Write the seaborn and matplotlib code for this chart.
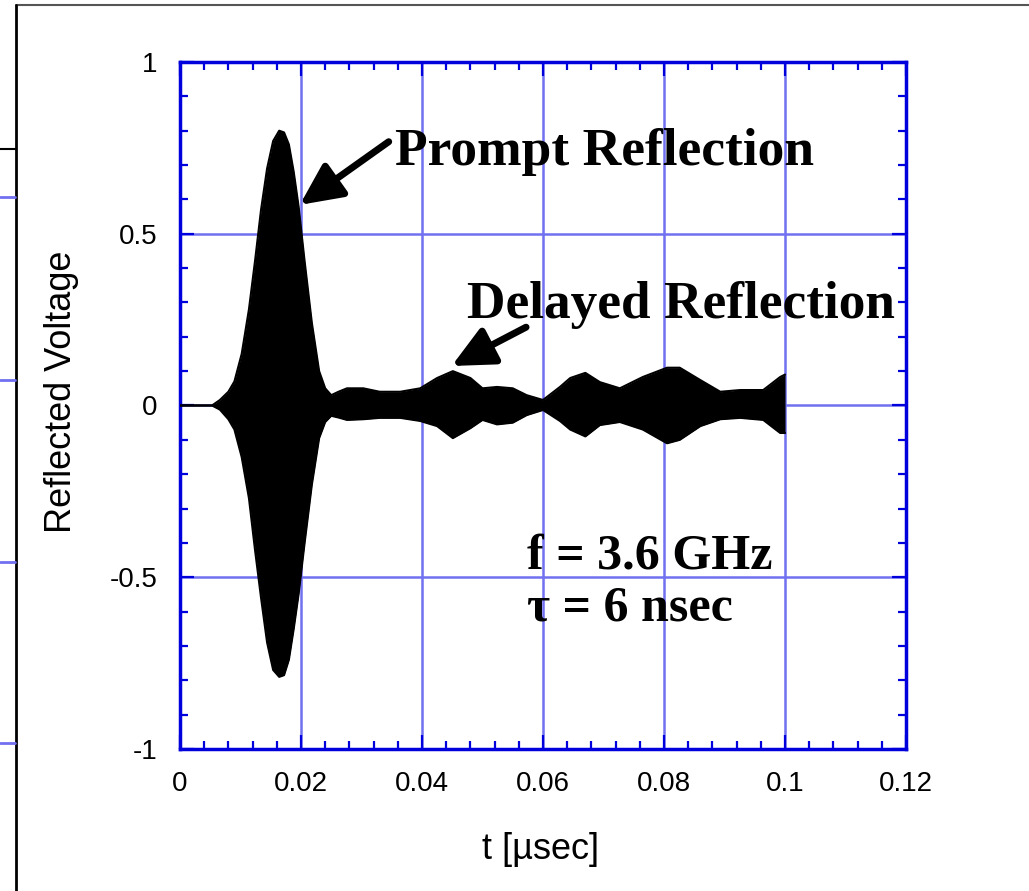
import numpy as np
import pandas as pd
import matplotlib
matplotlib.use("Agg")
import matplotlib.pyplot as plt
from matplotlib.lines import Line2D
from matplotlib.ticker import MultipleLocator
import seaborn as sns

# ---- data (envelope of the reflected signal) ----
t_usec = [0.0, 0.0053, 0.0066, 0.0080, 0.0090, 0.0102, 0.0114, 0.0124, 0.0134, 0.0144,
          0.0154, 0.0164, 0.0172, 0.0180, 0.0188, 0.0196, 0.0206, 0.0218, 0.0230, 0.0240,
          0.0250, 0.0262, 0.0276, 0.0303, 0.0330, 0.0364, 0.0397, 0.0425, 0.0451, 0.0480,
          0.0500, 0.0524, 0.0550, 0.0573, 0.0600, 0.0628, 0.0645, 0.0670, 0.0694, 0.0727,
          0.0765, 0.0805, 0.0826, 0.0860, 0.0893, 0.0926, 0.0964, 0.0992, 0.1000]
upper_env = [0.0, 0.0, 0.016, 0.04, 0.07, 0.15, 0.28, 0.42, 0.57, 0.69,
             0.77, 0.80, 0.795, 0.76, 0.68, 0.58, 0.42, 0.24, 0.10, 0.05,
             0.03, 0.04, 0.05, 0.05, 0.04, 0.04, 0.05, 0.08, 0.10, 0.08,
             0.05, 0.054, 0.05, 0.03, 0.016, 0.054, 0.08, 0.095, 0.068, 0.05,
             0.083, 0.11, 0.11, 0.074, 0.04, 0.045, 0.045, 0.083, 0.09]
lower_env = [0.0, 0.0, -0.012, -0.04, -0.07, -0.15, -0.27, -0.42, -0.56, -0.69,
             -0.77, -0.79, -0.785, -0.74, -0.65, -0.55, -0.40, -0.23, -0.095, -0.048,
             -0.03, -0.035, -0.042, -0.04, -0.036, -0.036, -0.045, -0.06, -0.095, -0.066,
             -0.042, -0.055, -0.05, -0.028, -0.013, -0.045, -0.07, -0.09, -0.057, -0.048,
             -0.07, -0.11, -0.10, -0.06, -0.04, -0.036, -0.042, -0.08, -0.08]

x_ticks = [0, 0.02, 0.04, 0.06, 0.08, 0.1, 0.12]
x_ticklabels = ["0", "0.02", "0.04", "0.06", "0.08", "0.1", "0.12"]
y_ticks = [-1, -0.5, 0, 0.5, 1]
y_ticklabels = ["-1", "-0.5", "0", "0.5", "1"]

df = pd.DataFrame({"t": t_usec, "upper": upper_env, "lower": lower_env})

sns.set_style("white")
plt.rcParams["font.family"] = ["Liberation Sans", "DejaVu Sans"]
plt.rcParams["text.color"] = "black"
plt.rcParams["axes.labelcolor"] = "black"

fig = plt.figure(figsize=(10.29, 8.91), dpi=100)
ax = fig.add_axes([0.1749, 0.1594, 0.7056, 0.7710])

ax.fill_between(df["t"], df["lower"], df["upper"], color="black", lw=0, zorder=3)
sns.lineplot(data=df, x="t", y="upper", color="black", lw=1.5, ax=ax, zorder=4)
sns.lineplot(data=df, x="t", y="lower", color="black", lw=1.5, ax=ax, zorder=4)

ax.set_xlim(0, 0.12)
ax.set_ylim(-1, 1)
ax.set_xticks(x_ticks)
ax.set_xticklabels(x_ticklabels)
ax.set_yticks(y_ticks)
ax.set_yticklabels(y_ticklabels)
ax.xaxis.set_minor_locator(MultipleLocator(0.004))
ax.yaxis.set_minor_locator(MultipleLocator(0.1))

blue = "#0000dd"
grid_blue = "#7070f0"
ax.grid(True, which="major", color=grid_blue, lw=1.8, zorder=1)
ax.set_axisbelow(True)
for s in ax.spines.values():
    s.set_color(blue)
    s.set_linewidth(2.5)
    s.set_visible(True)
ax.tick_params(which="both", direction="in", top=True, right=True, bottom=True, left=True,
               color=blue, width=1.6, labelsize=20, labelcolor="black")
ax.tick_params(which="major", length=10, pad=16)
ax.tick_params(which="minor", length=6)

ax.set_xlabel("t [\u00b5sec]", fontsize=26, color="black")
ax.set_ylabel("Reflected Voltage", fontsize=26, color="black")
ax.xaxis.label.set_va("center")
ax.xaxis.set_label_coords(0.496, -0.147)
ax.yaxis.label.set_va("center")
ax.yaxis.set_label_coords(-0.1625, 0.52)

serif = ["Liberation Serif", "DejaVu Serif"]
ax.text(0.0355, 0.738, "Prompt Reflection", family=serif, weight="bold", fontsize=38.5,
        ha="left", va="center", color="black", zorder=6)
ax.text(0.0474, 0.293, "Delayed Reflection", family=serif, weight="bold", fontsize=38.3,
        ha="left", va="center", color="black", zorder=6)
ax.text(0.0574, -0.44, "f = 3.6 GHz", family=serif, weight="bold", fontsize=36,
        ha="left", va="center", color="black", zorder=6)
ax.text(0.0574, -0.592, "\u03c4 = 6 nsec", family=serif, weight="bold", fontsize=36,
        ha="left", va="center", color="black", zorder=6)

arrow_kw = dict(arrowstyle="-|>,head_length=1.15,head_width=0.55", lw=5, color="black",
                mutation_scale=22, shrinkA=0, shrinkB=0)
ax.annotate("", xy=(0.0198, 0.584), xytext=(0.0345, 0.768), arrowprops=arrow_kw, zorder=7)
ax.annotate("", xy=(0.0449, 0.115), xytext=(0.0572, 0.228), arrowprops=arrow_kw, zorder=7)

# slide frame remnants around the figure
fig.add_artist(Line2D([0.01555, 1.0], [0.9944, 0.9944], transform=fig.transFigure,
                      color="#555555", lw=1.5))
fig.add_artist(Line2D([0.01555, 0.01555], [0.0, 0.9944], transform=fig.transFigure,
                      color="black", lw=2))
fig.add_artist(Line2D([0.0, 0.01555], [0.8328, 0.8328], transform=fig.transFigure,
                      color="black", lw=1.5))
for yy in [0.7789, 0.5735, 0.3692, 0.1661]:
    fig.add_artist(Line2D([0.0, 0.0146], [yy, yy], transform=fig.transFigure,
                          color=grid_blue, lw=2))

fig.savefig("out.png", dpi=100)
